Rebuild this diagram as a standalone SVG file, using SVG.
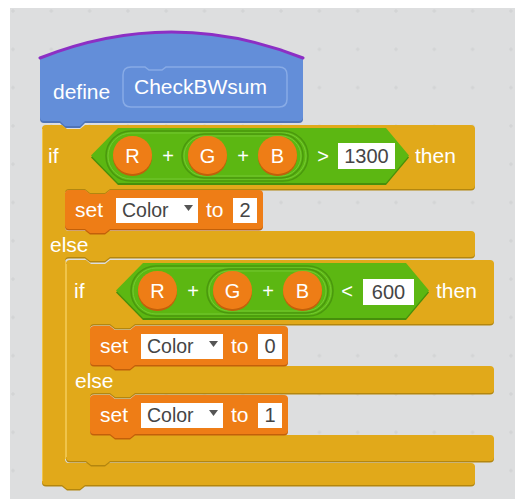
<svg xmlns="http://www.w3.org/2000/svg" xmlns:xlink="http://www.w3.org/1999/xlink" width="515" height="504" viewBox="0 0 515 504">
<style>
.lbl{font-family:"Liberation Sans",Arial,sans-serif;font-size:21px;fill:#ffffff}
.rep{font-family:"Liberation Sans",Arial,sans-serif;font-size:20px;fill:#ffffff;text-anchor:middle}
.num{font-family:"Liberation Sans",Arial,sans-serif;font-size:20px;fill:#454545;text-anchor:middle}
.drop{font-family:"Liberation Sans",Arial,sans-serif;font-size:19.5px;fill:#454545}
.ctl{fill:#e1a91a}.ctlS{fill:#b3860f}
.hl{stroke:#f0c44a;stroke-width:1;fill:none}
.var{fill:#ee7d16}.varS{fill:#c2600a}
.op{fill:#5cb712}.opS{fill:#468f0b}
.cap{fill:#5cb712;stroke:#4a980e;stroke-width:1.5}
.capH{fill:none;stroke:#74c932;stroke-width:1}
.circ{fill:#ee7d16}.circS{fill:#c2600a}
.box{fill:#ffffff}
.tri{fill:#555555}
</style>
<defs>
<pattern id="grid" x="13" y="11" width="38.3" height="38.3" patternUnits="userSpaceOnUse">
<path d="M0,-2 V2 M-2,0 H2 M38.3,-2 V2 M36.3,0 H40.3 M0,36.3 V40.3 M-2,38.3 H2 M38.3,36.3 V40.3 M36.3,38.3 H40.3" stroke="#cfd1d2" stroke-width="1" fill="none"/>
</pattern>
<path id="pOuter" d="M42,129 Q42,125 46,125 H62 L67,129 H80 L85,125 H471 Q475,125 475,129 V185 Q475,189 471,189 H110 L105,193 H90 L85,189 H69 Q65,189 65,193 V227 Q65,231 69,231 H471 Q475,231 475,235 V253 Q475,257 471,257 H110 L105,261 H90 L85,257 H69 Q65,257 65,261 V459 Q65,463 69,463 H471 Q475,463 475,467 V481 Q475,485 471,485 H85 L80,489 H67 L62,485 H46 Q42,485 42,481 Z"/>
<path id="pInner" d="M66,264 Q66,260 70,260 H86 L91,264 H105 L110,260 H490 Q494,260 494,264 V320 Q494,324 490,324 H135 L130,328 H115 L110,324 H94 Q90,324 90,328 V362 Q90,366 94,366 H490 Q494,366 494,370 V389 Q494,393 490,393 H135 L130,397 H115 L110,393 H94 Q90,393 90,397 V431 Q90,435 94,435 H490 Q494,435 494,439 V457 Q494,461 490,461 H110 L105,465 H91 L86,461 H70 Q66,461 66,457 Z"/>
<path id="pSet" d="M0,4 Q0,0 4,0 H20 L25,4 H40 L45,0 H194 Q198,0 198,4 V35 Q198,39 194,39 H45 L40,43 H25 L20,39 H4 Q0,39 0,35 Z"/>
</defs>

<rect x="0" y="0" width="515" height="504" fill="#ffffff"/>
<rect x="10" y="8" width="505" height="491" fill="#dddedf"/>
<rect x="10" y="8" width="505" height="491" fill="url(#grid)"/>

<g id="define">
<path d="M40,58 Q171.5,6 303,58 V119 Q303,123 299,123 H85 L80,128 H65 L60,123 H44 Q40,123 40,119 Z" fill="#4f74b8"/>
<path d="M40,58 Q171.5,6 303,58 V117 Q303,121 299,121 H85 L80,126 H65 L60,121 H44 Q40,121 40,117 Z" fill="#638ed9"/>
<path d="M40,58 Q171.5,6 303,58" fill="none" stroke="#8c2fc4" stroke-width="3" stroke-linecap="round"/>
<text class="lbl" x="53" y="99">define</text>
<path d="M131,67 H145 L149,70 H162 L166,67 H279 Q287,67 287,75 V99 Q287,107 279,107 H131 Q123,107 123,99 V75 Q123,67 131,67 Z" fill="none" stroke="#88abe6" stroke-width="1.5"/>
<text class="lbl" x="134" y="94">CheckBWsum</text>
</g>

<g id="if-outer">
<use xlink:href="#pOuter" class="ctlS" transform="translate(0,1.5)"/>
<use xlink:href="#pOuter" class="ctl"/>
<path class="hl" d="M42.5,481 V129 M65.5,193 V227 M65.5,261 V459"/>
<text class="lbl" x="48" y="163">if</text>
<text class="lbl" x="415" y="163">then</text>
<text class="lbl" x="50" y="252">else</text>
</g>

<g id="cond-outer">
<polygon points="91,157.5 118,130 386,130 409,157.5 386,185 118,185" class="opS"/>
<polygon points="91,155.5 118,128 386,128 409,155.5 386,183 118,183" class="op"/>
<rect x="106" y="131" width="202" height="50" rx="25" class="cap"/>
<rect x="108" y="133" width="198" height="46" rx="23" class="capH"/>
<rect x="182" y="134" width="121" height="44" rx="22" class="cap"/>
<rect x="184" y="136" width="117" height="40" rx="20" class="capH"/>
<rect x="113" y="138" width="39" height="38" rx="19" class="circS"/>
<rect x="113" y="136" width="39" height="38" rx="19" class="circ"/>
<text class="rep" x="132.5" y="162.5">R</text>
<text class="rep" x="168" y="163">+</text>
<rect x="188" y="138" width="39" height="38" rx="19" class="circS"/>
<rect x="188" y="136" width="39" height="38" rx="19" class="circ"/>
<text class="rep" x="207.5" y="162.5">G</text>
<text class="rep" x="243" y="163">+</text>
<rect x="258" y="138" width="39" height="38" rx="19" class="circS"/>
<rect x="258" y="136" width="39" height="38" rx="19" class="circ"/>
<text class="rep" x="277.5" y="162.5">B</text>
<text class="rep" x="323" y="163">&gt;</text>
<rect x="338" y="143" width="57" height="26" class="box"/>
<text class="num" x="366.5" y="163">1300</text>
</g>

<g id="set-2" transform="translate(65,190)">
<use xlink:href="#pSet" class="varS" transform="translate(0,1.5)"/>
<use xlink:href="#pSet" class="var"/>
<text class="lbl" x="10" y="27">set</text>
<rect x="51" y="8" width="82" height="25" class="box"/>
<text class="drop" x="57" y="27">Color</text>
<path d="M119,15 H128 L123.5,21 Z" class="tri"/>
<text class="lbl" x="141" y="27">to</text>
<rect x="168" y="8" width="24" height="25" class="box"/>
<text class="num" x="180" y="27">2</text>
</g>

<g id="if-inner">
<use xlink:href="#pInner" class="ctlS" transform="translate(0,1.5)"/>
<use xlink:href="#pInner" class="ctl"/>
<path class="hl" d="M66.5,457 V264 M90.5,328 V362 M90.5,397 V431"/>
<text class="lbl" x="74" y="298">if</text>
<text class="lbl" x="436" y="298">then</text>
<text class="lbl" x="75" y="388">else</text>
</g>

<g id="cond-inner">
<polygon points="116,292.5 143,265 406,265 429,292.5 406,320 143,320" class="opS"/>
<polygon points="116,290.5 143,263 406,263 429,290.5 406,318 143,318" class="op"/>
<rect x="131" y="266" width="202" height="50" rx="25" class="cap"/>
<rect x="133" y="268" width="198" height="46" rx="23" class="capH"/>
<rect x="207" y="269" width="121" height="44" rx="22" class="cap"/>
<rect x="209" y="271" width="117" height="40" rx="20" class="capH"/>
<rect x="138" y="273" width="39" height="38" rx="19" class="circS"/>
<rect x="138" y="271" width="39" height="38" rx="19" class="circ"/>
<text class="rep" x="157.5" y="297.5">R</text>
<text class="rep" x="193" y="298">+</text>
<rect x="213" y="273" width="39" height="38" rx="19" class="circS"/>
<rect x="213" y="271" width="39" height="38" rx="19" class="circ"/>
<text class="rep" x="232.5" y="297.5">G</text>
<text class="rep" x="268" y="298">+</text>
<rect x="283" y="273" width="39" height="38" rx="19" class="circS"/>
<rect x="283" y="271" width="39" height="38" rx="19" class="circ"/>
<text class="rep" x="302.5" y="297.5">B</text>
<text class="rep" x="347" y="298">&lt;</text>
<rect x="363" y="279" width="51" height="26" class="box"/>
<text class="num" x="388.5" y="299">600</text>
</g>

<g id="set-0" transform="translate(90,326)">
<use xlink:href="#pSet" class="varS" transform="translate(0,1.5)"/>
<use xlink:href="#pSet" class="var"/>
<text class="lbl" x="10" y="27">set</text>
<rect x="51" y="8" width="82" height="25" class="box"/>
<text class="drop" x="57" y="27">Color</text>
<path d="M119,15 H128 L123.5,21 Z" class="tri"/>
<text class="lbl" x="141" y="27">to</text>
<rect x="168" y="8" width="24" height="25" class="box"/>
<text class="num" x="180" y="27">0</text>
</g>

<g id="set-1" transform="translate(90,395)">
<use xlink:href="#pSet" class="varS" transform="translate(0,1.5)"/>
<use xlink:href="#pSet" class="var"/>
<text class="lbl" x="10" y="27">set</text>
<rect x="51" y="8" width="82" height="25" class="box"/>
<text class="drop" x="57" y="27">Color</text>
<path d="M119,15 H128 L123.5,21 Z" class="tri"/>
<text class="lbl" x="141" y="27">to</text>
<rect x="168" y="8" width="24" height="25" class="box"/>
<text class="num" x="180" y="27">1</text>
</g>

<g id="connectors"></g>
</svg>
